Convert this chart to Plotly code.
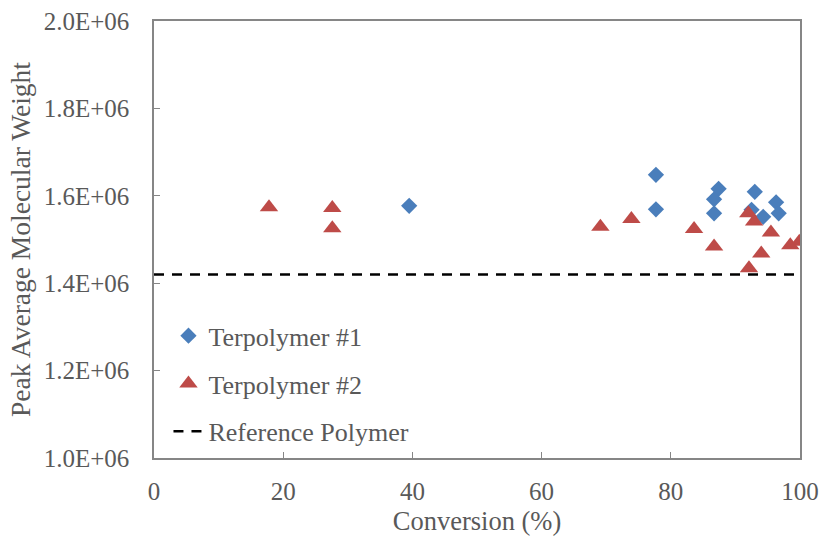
import plotly.graph_objects as go

# Terpolymer #1 (blue diamonds)
t1_conv = [39.5, 77.7, 77.7, 87.4, 86.7, 86.7, 93.0, 92.5, 94.3, 96.3, 96.7]
t1_mw = [1.577e6, 1.648e6, 1.569e6, 1.616e6, 1.592e6, 1.560e6, 1.609e6, 1.568e6, 1.552e6, 1.585e6, 1.560e6]

# Terpolymer #2 (red triangles)
t2_conv = [17.8, 27.6, 27.6, 69.1, 73.9, 83.6, 86.7, 92.0, 92.9, 95.5, 94.0, 92.1, 98.5, 99.9]
t2_mw = [1.574e6, 1.572e6, 1.526e6, 1.529e6, 1.547e6, 1.524e6, 1.484e6, 1.560e6, 1.541e6,
         1.516e6, 1.468e6, 1.434e6, 1.487e6, 1.495e6]

# Reference polymer
ref_conv = [0, 100]
ref_mw = [1.42e6, 1.42e6]

x_ticks = [0, 20, 40, 60, 80, 100]
y_ticks = [1.0e6, 1.2e6, 1.4e6, 1.6e6, 1.8e6, 2.0e6]
y_tick_labels = ["1.0E+06", "1.2E+06", "1.4E+06", "1.6E+06", "1.8E+06", "2.0E+06"]

FONT = "Liberation Serif"
GRAY = "#595959"
AX = "#868686"

fig = go.Figure()
fig.add_trace(go.Scatter(
    x=t1_conv, y=t1_mw, mode="markers", name="Terpolymer #1", legendgroup="a",
    marker=dict(symbol="diamond", size=12.5, color="#4A7EBB", line=dict(width=0)),
))
fig.add_trace(go.Scatter(
    x=t2_conv, y=t2_mw, mode="markers", name="Terpolymer #2", legendgroup="b",
    marker=dict(symbol="triangle-up", size=16, color="#BE4B48", line=dict(width=0)),
))
fig.add_trace(go.Scatter(
    x=ref_conv, y=ref_mw, mode="lines", name="Reference Polymer", legendgroup="c",
    line=dict(color="black", width=2.5, dash="10px,8px"),
))

fig.update_layout(
    width=825, height=537,
    margin=dict(l=154, r=25, t=21, b=79),
    paper_bgcolor="white", plot_bgcolor="white",
    font=dict(family=FONT, size=25, color=GRAY),
    showlegend=True,
    legend=dict(
        x=0.0224, y=0.0063, xanchor="left", yanchor="bottom",
        bgcolor="rgba(0,0,0,0)", tracegroupgap=11,
        font=dict(family=FONT, size=26, color=GRAY),
    ),
    xaxis=dict(
        range=[0, 100], tickvals=x_ticks, ticks="inside", ticklen=6,
        tickcolor=AX, showline=True, linecolor=AX, linewidth=1.5, mirror=True,
        showgrid=False, zeroline=False, automargin=False,
        tickfont=dict(family=FONT, size=25, color=GRAY), ticklabelstandoff=10,
        title=dict(text="Conversion (%)", standoff=8,
                   font=dict(family=FONT, size=26.5, color=GRAY)),
    ),
    yaxis=dict(
        range=[1.0e6, 2.0e6], tickvals=y_ticks, ticktext=y_tick_labels,
        ticks="inside", ticklen=6, tickcolor=AX,
        showline=True, linecolor=AX, linewidth=1.5, mirror=True,
        showgrid=False, zeroline=False, automargin=False,
        tickfont=dict(family=FONT, size=25, color=GRAY), ticklabelstandoff=18,
        title=dict(text="Peak Average Molecular Weight", standoff=5,
                   font=dict(family=FONT, size=27.5, color=GRAY)),
    ),
)

fig.write_html(
    "out.html",
    config={"displayModeBar": False},
    post_script="document.body.style.margin='0';document.body.style.overflow='hidden';",
)
